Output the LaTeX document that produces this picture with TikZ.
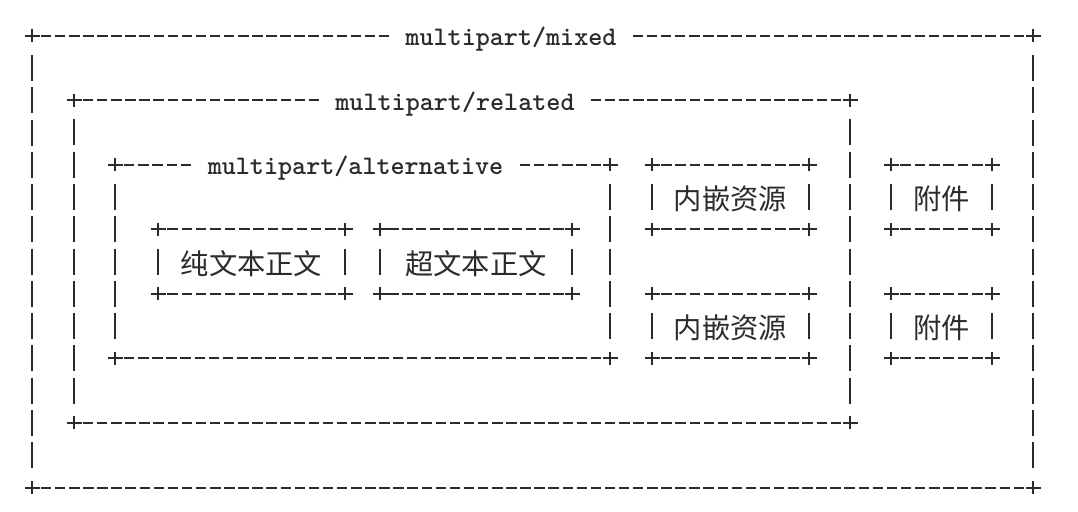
\documentclass[tikz,border=0pt]{standalone}
\usepackage{fontspec}
\newfontfamily\cjkfont{Noto Sans CJK SC}
\usetikzlibrary{calc}
\definecolor{ink}{HTML}{2B2B2B}

\tikzset{
  stroke/.style={draw=ink, line width=1.5pt, line cap=butt},
  boxlabel/.style={font=\ttfamily\bfseries\fontsize{20.1}{24}\selectfont, text=ink, inner sep=0pt, anchor=base},
  cjklabel/.style={font=\cjkfont\fontsize{21.2}{24}\selectfont, text=ink, inner sep=0pt, yshift=-1.5pt},
}

% a row of '-' characters between the character cells at x0 and x1 on row y
\newcommand\hdashes[3]{%
  \pgfmathtruncatemacro\hdcount{round((#2-(#1))/14.1)}%
  \pgfmathsetmacro\hdstep{(#2-(#1))/\hdcount}%
  \pgfmathsetmacro\hdoff{(\hdstep-10.5)*0.75}%
  \ifnum\hdcount>1
    \draw[stroke, dash pattern=on 7.875pt off \hdoff pt]
      ({#1+\hdstep-5.25},#3) -- ({#2-\hdstep+5.25},#3);
  \fi}

% a column of '|' characters in the rows strictly between y0 and y1
\newcommand\vbars[3]{%
  \pgfmathtruncatemacro\vbcount{round((#3-(#2))/32.27)}%
  \pgfmathsetmacro\vbstep{(#3-(#2))/\vbcount}%
  \pgfmathsetmacro\vboff{(\vbstep-26)*0.75}%
  \ifnum\vbcount>1
    \draw[stroke, dash pattern=on 19.5pt off \vboff pt]
      (#1,{#2+\vbstep-13}) -- (#1,{#3-\vbstep+13});
  \fi}

% a '+' corner
\newcommand\plusmark[2]{%
  \draw[stroke] ({#1-7.5},#2) -- ({#1+7.5},#2) (#1,{#2-6.5}) -- (#1,{#2+6.5});}

% a box: corners, sides and bottom edge (the top edge is drawn on its own)
\newcommand\asciibox[5]{%
  \coordinate (#1-nw) at (#2,#3);
  \coordinate (#1-se) at (#4,#5);
  \plusmark{#2}{#3}\plusmark{#4}{#3}\plusmark{#2}{#5}\plusmark{#4}{#5}%
  \vbars{#2}{#3}{#5}\vbars{#4}{#3}{#5}%
  \hdashes{#2}{#4}{#5}}

\begin{document}
\begin{tikzpicture}[x=0.75pt, y=-0.75pt]
  \useasboundingbox (0,0) rectangle (1078,511);

  % outer containers
  \asciibox{mixed}{32}{35.7}{1033}{487.5}
  \hdashes{32}{398.2}{35.7}\hdashes{623.8}{1033}{35.7}
  \node[boxlabel] (lbl-mixed) at (511,45.7) {multipart/mixed};

  \asciibox{related}{74}{100.2}{850}{422.9}
  \hdashes{74}{328.1}{100.2}\hdashes{581.9}{850}{100.2}
  \node[boxlabel] (lbl-related) at (455,110.2) {multipart/related};

  \asciibox{alt}{115}{164.8}{610}{358.4}
  \hdashes{115}{200.4}{164.8}\hdashes{510.6}{610}{164.8}
  \node[boxlabel] (lbl-alt) at (355.5,174.8) {multipart/alternative};

  % leaf parts
  \asciibox{plain}{158}{229.3}{345}{293.9}
  \hdashes{158}{345}{229.3}
  \node[cjklabel] (txt-plain) at ($(plain-nw)!0.5!(plain-se)$) {纯文本正文};

  \asciibox{rich}{380}{229.3}{572}{293.9}
  \hdashes{380}{572}{229.3}
  \node[cjklabel] (txt-rich) at ($(rich-nw)!0.5!(rich-se)$) {超文本正文};

  \asciibox{res1}{652}{164.8}{809}{229.3}
  \hdashes{652}{809}{164.8}
  \node[cjklabel] (txt-res1) at ($(res1-nw)!0.5!(res1-se)$) {内嵌资源};

  \asciibox{res2}{652}{293.9}{809}{358.4}
  \hdashes{652}{809}{293.9}
  \node[cjklabel] (txt-res2) at ($(res2-nw)!0.5!(res2-se)$) {内嵌资源};

  \asciibox{att1}{891}{164.8}{992}{229.3}
  \hdashes{891}{992}{164.8}
  \node[cjklabel] (txt-att1) at ($(att1-nw)!0.5!(att1-se)$) {附件};

  \asciibox{att2}{891}{293.9}{992}{358.4}
  \hdashes{891}{992}{293.9}
  \node[cjklabel] (txt-att2) at ($(att2-nw)!0.5!(att2-se)$) {附件};
\end{tikzpicture}
\end{document}
